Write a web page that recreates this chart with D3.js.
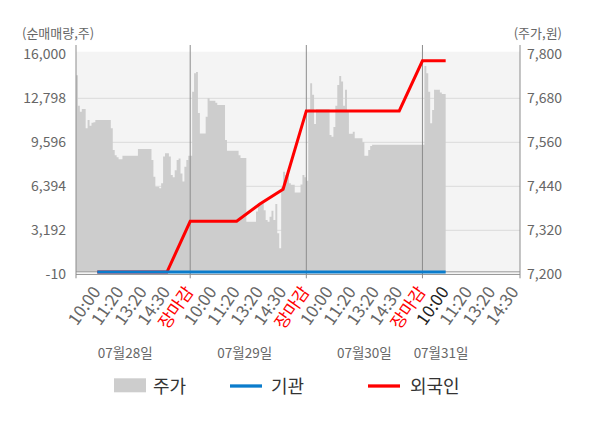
<!DOCTYPE html>
<html>
<head>
<meta charset="utf-8">
<script src="https://cdn.jsdelivr.net/npm/d3@7"></script>
<style>
  body { margin: 0; background: #fff; }
  text { font-family: "Noto Sans CJK KR", "Noto Sans", sans-serif; }
</style>
</head>
<body>
<svg id="chart" width="600" height="428"></svg>
<script>
// ---- data ----
var dayLabels = ["07월28일", "07월29일", "07월30일", "07월31일"];
var dayLabelSlots = [2.2, 7.35, 12.5, 15.8];
var timeLabels = ["10:00", "11:20", "13:20", "14:30", "장마감"];
var timeSlots = d3.range(1, 20);
var currentSlot = 16;

var leftTicks = [-10, 3192, 6394, 9596, 12798, 16000];
var rightTicks = [7200, 7320, 7440, 7560, 7680, 7800];

// price samples, 12 per label slot
var priceDay1 = [7743, 7660, 7643, 7651, 7651, 7598, 7621, 7605, 7613, 7615,
  7621, 7621, 7621, 7621, 7621, 7621, 7621, 7621, 7598, 7539,
  7525, 7519, 7514, 7514, 7523, 7523, 7523, 7523, 7523, 7523,
  7523, 7523, 7542, 7542, 7542, 7542, 7542, 7542, 7542, 7512,
  7466, 7439, 7439, 7435, 7448, 7521, 7530, 7530, 7521, 7471,
  7465, 7484, 7512, 7516, 7475, 7453, 7493, 7512, 7523, 7523];
var priceDay2 = [7698, 7748, 7752, 7640, 7584, 7584, 7584, 7630, 7680, 7673,
  7673, 7673, 7668, 7662, 7662, 7662, 7662, 7566, 7537, 7537,
  7537, 7537, 7537, 7537, 7525, 7517, 7517, 7517, 7343, 7343,
  7343, 7343, 7343, 7371, 7389, 7394, 7394, 7375, 7348, 7343,
  7357, 7373, 7348, 7392, 7312, 7271, 7439, 7480, 7471, 7484,
  7448, 7444, 7444, 7423, 7423, 7423, 7445, 7471, 7465, 7455];
var priceDay3 = [7650, 7721, 7690, 7610, 7650, 7650, 7650, 7650, 7650, 7650,
  7650, 7580, 7575, 7602, 7660, 7716, 7741, 7726, 7660, 7703,
  7643, 7583, 7583, 7589, 7571, 7571, 7571, 7571, 7560, 7523,
  7523, 7539, 7550, 7553, 7553, 7553, 7553, 7553, 7553, 7553,
  7553, 7553, 7553, 7553, 7553, 7553, 7553, 7553, 7553, 7553,
  7553, 7553, 7553, 7553, 7553, 7553, 7553, 7553, 7553, 7553];
var priceDay4 = [7768, 7748, 7698, 7612, 7648, 7703, 7703, 7703, 7696, 7692, 7692, 7692];

// net buying at label slots 1..16
var instNet = [150, 150, 150, 150, 150, 150, 150, 150, 150, 150, 150, 150, 150, 150, 150, 150];
var foreignNet = [150, 150, 150, 150, 3850, 3850, 3850, 5100, 6180, 11880, 11880, 11880, 11880, 11880, 15530, 15530];

// ---- layout ----
var svg = d3.select("#chart"),
  plot = { left: 76, right: 520, top: 54.3, bottom: 274.3, bgTop: 51.7, lineTop: 45 };

var x = d3.scaleLinear().domain([1 / 12, 19.2]).range([plot.left, plot.right]),
  yL = d3.scaleLinear().domain([-10, 16000]).range([plot.bottom, plot.top]),
  yR = d3.scaleLinear().domain([7200, 7800]).range([plot.bottom, plot.top]);

var comma = function (d) { return d3.format(",")(d).replace("\u2212", "-"); };

var prices = [priceDay1, priceDay2, priceDay3, priceDay4].flatMap(function (arr, d) {
  return arr.map(function (v, i) { return { slot: d * 5 + (i + 1) / 12, price: v }; });
});
var inst = instNet.map(function (v, i) { return { slot: i + 1, value: v }; });
var foreign = foreignNet.map(function (v, i) { return { slot: i + 1, value: v }; });

svg.append("rect")
  .attr("x", plot.left).attr("y", plot.bgTop)
  .attr("width", plot.right - plot.left).attr("height", plot.bottom - plot.bgTop)
  .attr("fill", "#f4f4f4");

svg.append("g").selectAll("line")
  .data(leftTicks.slice(1, -1))
  .enter().append("line")
  .attr("x1", plot.left).attr("x2", plot.right)
  .attr("y1", function (d) { return yL(d); }).attr("y2", function (d) { return yL(d); })
  .attr("stroke", "#dadada").attr("stroke-width", 1);

var area = d3.area()
  .x(function (d) { return x(d.slot); })
  .y0(plot.bottom - 2.5)
  .y1(function (d) { return yR(d.price); })
  .curve(d3.curveStepAfter);

svg.append("path").datum(prices)
  .attr("d", area)
  .attr("fill", "#cdcdcd");

// base lines
svg.append("line")
  .attr("x1", plot.left).attr("x2", plot.right)
  .attr("y1", plot.bottom - 2.5).attr("y2", plot.bottom - 2.5)
  .attr("stroke", "#9a9a9a").attr("stroke-width", 1);
svg.append("line")
  .attr("x1", plot.left).attr("x2", plot.right)
  .attr("y1", plot.bottom + 0.2).attr("y2", plot.bottom + 0.2)
  .attr("stroke", "#9a9a9a").attr("stroke-width", 1);

// day separators and side axes
svg.append("g").selectAll("line")
  .data([plot.left, x(5), x(10), x(15), plot.right])
  .enter().append("line")
  .attr("x1", function (d) { return d; }).attr("x2", function (d) { return d; })
  .attr("y1", plot.lineTop).attr("y2", plot.bottom + 4)
  .attr("stroke", "#8c8c8c").attr("stroke-width", 1);

var line = d3.line()
  .x(function (d) { return x(d.slot); })
  .y(function (d) { return yL(d.value); });

svg.append("path").datum(foreign)
  .attr("d", line).attr("fill", "none")
  .attr("stroke", "#ff0000").attr("stroke-width", 3);

svg.append("path").datum(inst)
  .attr("d", line).attr("fill", "none")
  .attr("stroke", "#0a7ccc").attr("stroke-width", 3);

// y axes
var gLeft = svg.append("g")
  .attr("transform", "translate(" + plot.left + ",0)")
  .call(d3.axisLeft(yL).tickValues(leftTicks).tickSize(0).tickPadding(10).tickFormat(comma));
var gRight = svg.append("g")
  .attr("transform", "translate(" + plot.right + ",0)")
  .call(d3.axisRight(yR).tickValues(rightTicks).tickSize(0).tickPadding(7).tickFormat(comma));
[gLeft, gRight].forEach(function (g) {
  g.select(".domain").remove();
  g.selectAll("text")
    .attr("fill", "#666").attr("font-size", 14)
    .style("font-family", "'Noto Sans CJK KR', 'Noto Sans', sans-serif");
});

// x axis time labels
var gX = svg.append("g")
  .attr("transform", "translate(0," + plot.bottom + ")")
  .call(d3.axisBottom(x).tickValues(timeSlots).tickSize(0)
    .tickFormat(function (d) { return timeLabels[(d - 1) % 5]; }));
gX.select(".domain").remove();
gX.selectAll("text")
  .attr("y", 0).attr("dy", 0)
  .attr("transform", "translate(3.5,17.5) rotate(-55)")
  .attr("text-anchor", "end")
  .attr("font-size", 17)
  .style("font-family", "'Noto Sans CJK KR', 'Noto Sans', sans-serif")
  .attr("fill", function (d) {
    if (d % 5 === 0) return "#ff0000";
    if (d === currentSlot) return "#222";
    return "#666";
  });

svg.append("g").selectAll("text")
  .data(dayLabels)
  .enter().append("text")
  .attr("x", function (d, i) { return x(dayLabelSlots[i]); })
  .attr("y", 358)
  .attr("text-anchor", "middle")
  .attr("font-size", 13.5)
  .attr("fill", "#666")
  .text(function (d) { return d; });

// axis titles
svg.append("text")
  .attr("x", 22).attr("y", 38)
  .attr("font-size", 13).attr("fill", "#666")
  .text("(순매매량,주)");
svg.append("text")
  .attr("x", 562).attr("y", 38)
  .attr("text-anchor", "end")
  .attr("font-size", 13).attr("fill", "#666")
  .text("(주가,원)");

// legend
var legend = svg.append("g");
legend.append("rect")
  .attr("x", 114).attr("y", 378.3).attr("width", 32).attr("height", 14)
  .attr("fill", "#cdcdcd");
legend.append("line")
  .attr("x1", 230).attr("x2", 262).attr("y1", 386).attr("y2", 386)
  .attr("stroke", "#0a7ccc").attr("stroke-width", 3.3);
legend.append("line")
  .attr("x1", 368).attr("x2", 400).attr("y1", 386).attr("y2", 386)
  .attr("stroke", "#ff0000").attr("stroke-width", 3.3);
legend.selectAll(".lab")
  .data([["주가", 153], ["기관", 271], ["외국인", 410]])
  .enter().append("text")
  .attr("class", "lab")
  .attr("x", function (d) { return d[1]; })
  .attr("y", 392.5)
  .attr("font-size", 18)
  .attr("fill", "#333")
  .text(function (d) { return d[0]; });
</script>
</body>
</html>
